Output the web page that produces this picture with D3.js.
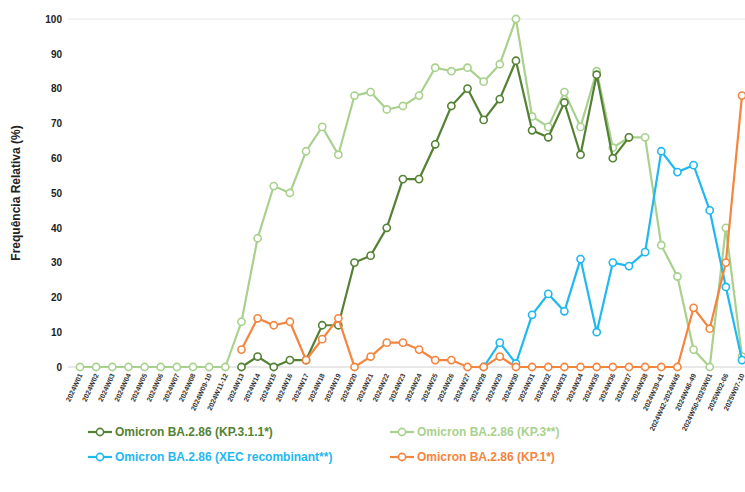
<!DOCTYPE html>
<html>
<head>
<meta charset="utf-8">
<script src="https://cdn.jsdelivr.net/npm/d3@7"></script>
<style>
  body { margin: 0; background: #fff; font-family: "Liberation Sans", Arial, sans-serif; }
</style>
</head>
<body>
<svg id="chart" width="745" height="492"></svg>
<script>
const weeks = ['2024W01','2024W02','2024W03','2024W04','2024W05','2024W06','2024W07','2024W08',
  '2024W09-10','2024W11-12',
  '2024W13','2024W14','2024W15','2024W16','2024W17','2024W18','2024W19','2024W20','2024W21',
  '2024W22','2024W23','2024W24','2024W25','2024W26','2024W27','2024W28','2024W29','2024W30',
  '2024W31','2024W32','2024W33','2024W34','2024W35','2024W36','2024W37','2024W38',
  '2024W39-41','2024W42-2024W45','2024W46-49','2024W50-2025W01','2025W02-06','2025W07-10'];

const kp311 = [null,null,null,null,null,null,null,null,null,null,
  0,3,0,2,2,12,12,30,32,40,54,54,64,75,80,71,77,88,68,66,76,61,84,60,66,
  null,null,null,null,null,null,null];
const kp3 = [0,0,0,0,0,0,0,0,0,0,
  13,37,52,50,62,69,61,78,79,74,75,78,86,85,86,82,87,100,72,69,79,69,85,63,66,66,
  35,26,5,0,40,3];
const xec = [null,null,null,null,null,null,null,null,null,null,
  null,null,null,null,null,null,null,null,null,null,null,null,null,null,null,
  0,7,1,15,21,16,31,10,30,29,33,62,56,58,45,23,2];
const kp1 = [null,null,null,null,null,null,null,null,null,null,
  5,14,12,13,2,8,14,0,3,7,7,5,2,2,0,0,3,0,0,0,0,0,0,0,0,0,0,0,17,11,30,78];

const seriesNames = ['Omicron BA.2.86 (KP.3.1.1*)','Omicron BA.2.86 (KP.3**)',
  'Omicron BA.2.86 (XEC recombinant**)','Omicron BA.2.86 (KP.1*)'];
const colors = ['#548235','#a9d18e','#1fb8f0','#f4853e'];
const series = [kp3, kp311, xec, kp1];
const seriesIdx = [1, 0, 2, 3];

const svg = d3.select('#chart');
const x = d3.scalePoint().domain(weeks).range([80, 742]);
const y = d3.scaleLinear().domain([0, 100]).range([367, 19]);

svg.append('line').attr('x1', 68).attr('x2', 745).attr('y1', y(100)).attr('y2', y(100))
  .attr('stroke', '#e6e6e6');
svg.append('line').attr('x1', 68).attr('x2', 745).attr('y1', y(0)).attr('y2', y(0))
  .attr('stroke', '#d0d0d0');

const yAxis = svg.append('g').attr('transform', 'translate(68,0)')
  .call(d3.axisLeft(y).tickValues(d3.range(0, 101, 10)).tickSize(0).tickPadding(6));
yAxis.select('.domain').remove();
yAxis.selectAll('text').style('font-size', '10px').style('font-weight', 'bold').attr('fill', '#222');

const xAxis = svg.append('g').attr('transform', `translate(0,${y(0)})`)
  .call(d3.axisBottom(x).tickSize(0).tickPadding(0));
xAxis.select('.domain').remove();
xAxis.selectAll('text')
  .style('font-size', '7px').style('font-weight', 'bold').attr('fill', '#333')
  .attr('text-anchor', 'end')
  .attr('transform', 'translate(0,7) rotate(-65)')
  .attr('dy', '0.35em');

svg.append('text')
  .attr('transform', `translate(20,${(y(0) + y(100)) / 2}) rotate(-90)`)
  .attr('text-anchor', 'middle')
  .style('font-size', '12px').style('font-weight', 'bold').attr('fill', '#222')
  .text('Frequência Relativa (%)');

const line = d3.line()
  .defined(d => d != null)
  .x((d, i) => x(weeks[i]))
  .y(d => y(d));

series.forEach((vals, k) => {
  const c = colors[seriesIdx[k]];
  svg.append('path').datum(vals)
    .attr('fill', 'none').attr('stroke', c).attr('stroke-width', 2.2)
    .attr('d', line);
  svg.append('g').selectAll('circle')
    .data(vals.map((v, i) => ({v, i})).filter(d => d.v != null))
    .enter().append('circle')
    .attr('cx', d => x(weeks[d.i])).attr('cy', d => y(d.v)).attr('r', 3.6)
    .attr('fill', '#fff').attr('stroke', c).attr('stroke-width', 1.6);
});

const legendPos = [[88, 432], [390, 432], [88, 457], [390, 457]];
seriesNames.forEach((name, i) => {
  const [lx, ly] = legendPos[i];
  const g = svg.append('g').attr('transform', `translate(${lx},${ly})`);
  g.append('line').attr('x1', 0).attr('x2', 24).attr('stroke', colors[i]).attr('stroke-width', 2.2);
  g.append('circle').attr('cx', 12).attr('r', 3.6).attr('fill', '#fff')
    .attr('stroke', colors[i]).attr('stroke-width', 1.6);
  g.append('text').attr('x', 27).attr('dy', '0.35em')
    .style('font-size', '12px').style('font-weight', 'bold').attr('fill', colors[i])
    .text(name);
});
</script>
</body>
</html>
